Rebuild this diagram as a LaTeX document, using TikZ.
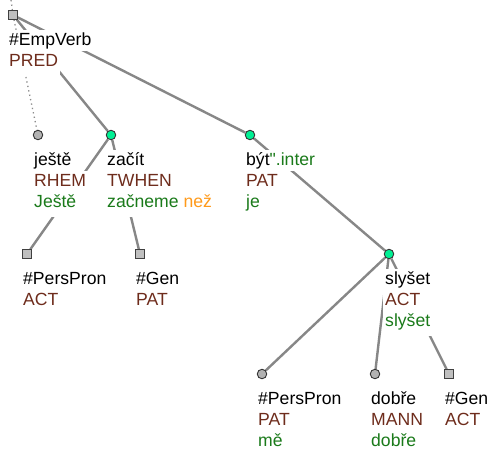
\documentclass[tikz,border=0pt]{standalone}
\usepackage{fontspec}
\setmainfont{Liberation Sans}
\newfontfamily\quotefont{Liberation Sans}
\usetikzlibrary{backgrounds}
\definecolor{fbrown}{HTML}{6E2C1C}
\definecolor{fgreen}{HTML}{1A7A1A}
\definecolor{forange}{HTML}{FF9A1A}
\definecolor{edgegray}{HTML}{878787}
\definecolor{mint}{HTML}{00F094}
\begin{document}
\begin{tikzpicture}[x=1pt,y=-1pt,
  lbl/.style={anchor=base west, fill=white, inner xsep=2pt, inner ysep=0pt,
    text height=15pt, text depth=6pt, font=\fontsize{17.6pt}{21pt}\selectfont},
  last/.style={text depth=10pt},
  txb/.style={text=fbrown},
  txg/.style={text=fgreen},
  gcirc/.style={circle, draw=black!80, line width=0.9pt, fill=mint, minimum size=9.5pt, inner sep=0pt},
  ycirc/.style={circle, draw=black!80, line width=0.9pt, fill=black!30, minimum size=9.5pt, inner sep=0pt},
  sqbox/.style={rectangle, draw=black!75, line width=0.9pt, fill=black!25, minimum size=8.5pt, inner sep=0pt},
  edge/.style={draw=edgegray, line width=2.4pt},
  dotedge/.style={draw=black!45, line width=1.3pt, dash pattern=on 1.3pt off 3.2pt}]
\useasboundingbox (0,0) rectangle (489,451);

% markers
\node[sqbox] (root) at (13,15) {};
\node[ycirc] (jeste) at (38,135) {};
\node[gcirc] (zacit) at (111,135) {};
\node[gcirc] (byt) at (250,135) {};
\node[sqbox] (pp1) at (27,254) {};
\node[sqbox] (gen1) at (140,254) {};
\node[gcirc] (slyset) at (389,254) {};
\node[ycirc] (pp2) at (262,374) {};
\node[ycirc] (dobre) at (375,374) {};
\node[sqbox] (gen2) at (449,374) {};
\coordinate (top) at (11,0);

% edges
\begin{scope}[on background layer]
\fill[white] (0,0) rectangle (489,451);
\draw[dotedge] (root) -- (top);
\draw[dotedge] (root) -- (jeste);
\draw[edge] (root) -- (zacit);
\draw[edge] (root) -- (byt);
\draw[edge] (zacit) -- (pp1);
\draw[edge] (zacit) -- (gen1);
\draw[edge] (byt) -- (slyset);
\draw[edge] (slyset) -- (pp2);
\draw[edge] (slyset) -- (dobre);
\draw[edge] (slyset) -- (gen2);
\end{scope}

% labels
\node[lbl] (root-a) at ([shift={(-6,30)}]root.center) {\#EmpVerb};
\node[lbl,txb,last] (root-b) at ([shift={(-6,51)}]root.center) {PRED};

\node[lbl] (jeste-a) at ([shift={(-6,30)}]jeste.center) {ještě};
\node[lbl,txb] (jeste-b) at ([shift={(-6,51)}]jeste.center) {RHEM};
\node[lbl,txg,last] (jeste-c) at ([shift={(-6,72)}]jeste.center) {Ještě};

\node[lbl] (zacit-a) at ([shift={(-6,30)}]zacit.center) {začít};
\node[lbl,txb] (zacit-b) at ([shift={(-6,51)}]zacit.center) {TWHEN};
\node[lbl,last] (zacit-c) at ([shift={(-6,72)}]zacit.center) {\textcolor{fgreen}{začneme} \textcolor{forange}{než}};

\node[lbl] (byt-a) at ([shift={(-6,30)}]byt.center) {být\textcolor{fgreen}{{\quotefont"}.inter}};
\node[lbl,txb] (byt-b) at ([shift={(-6,51)}]byt.center) {PAT};
\node[lbl,txg,last] (byt-c) at ([shift={(-6,72)}]byt.center) {je};

\node[lbl] (pp1-a) at ([shift={(-6,30)}]pp1.center) {\#PersPron};
\node[lbl,txb,last] (pp1-b) at ([shift={(-6,51)}]pp1.center) {ACT};

\node[lbl] (gen1-a) at ([shift={(-6,30)}]gen1.center) {\#Gen};
\node[lbl,txb,last] (gen1-b) at ([shift={(-6,51)}]gen1.center) {PAT};

\node[lbl] (slyset-a) at ([shift={(-6,30)}]slyset.center) {slyšet};
\node[lbl,txb] (slyset-b) at ([shift={(-6,51)}]slyset.center) {ACT};
\node[lbl,txg,last] (slyset-c) at ([shift={(-6,72)}]slyset.center) {slyšet};

\node[lbl] (pp2-a) at ([shift={(-6,30)}]pp2.center) {\#PersPron};
\node[lbl,txb] (pp2-b) at ([shift={(-6,51)}]pp2.center) {PAT};
\node[lbl,txg,last] (pp2-c) at ([shift={(-6,72)}]pp2.center) {mě};

\node[lbl] (dobre-a) at ([shift={(-6,30)}]dobre.center) {dobře};
\node[lbl,txb] (dobre-b) at ([shift={(-6,51)}]dobre.center) {MANN};
\node[lbl,txg,last] (dobre-c) at ([shift={(-6,72)}]dobre.center) {dobře};

\node[lbl] (gen2-a) at ([shift={(-6,30)}]gen2.center) {\#Gen};
\node[lbl,txb,last] (gen2-b) at ([shift={(-6,51)}]gen2.center) {ACT};
\end{tikzpicture}
\end{document}
